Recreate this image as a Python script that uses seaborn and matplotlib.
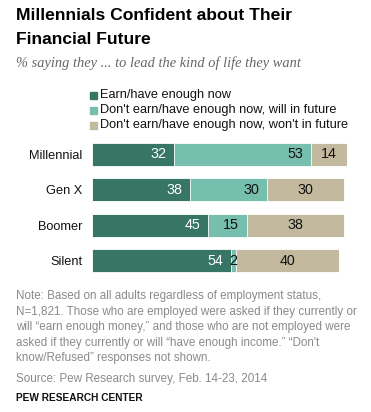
import matplotlib
matplotlib.use("Agg")
import matplotlib.pyplot as plt
import seaborn as sns
import pandas as pd
import numpy as np

generations = ["Millennial", "Gen X", "Boomer", "Silent"]
earn_now = [32, 38, 45, 54]
will_future = [53, 30, 15, 2]
wont_future = [14, 30, 38, 40]
series_names = ["Earn/have enough now",
                "Don't earn/have enough now, will in future",
                "Don't earn/have enough now, won't in future"]
colors = ["#377565", "#76BEAE", "#C2B99E"]

title_lines = ["Millennials Confident about Their", "Financial Future"]
subtitle = "% saying they ... to lead the kind of life they want"
note = ("Note: Based on all adults regardless of employment status,\n"
        "N=1,821. Those who are employed were asked if they currently or\n"
        "will \u201cearn enough money,\u201d and those who are not employed were\n"
        "asked if they currently or will \u201chave enough income.\u201d \u201cDon't\n"
        "know/Refused\u201d responses not shown.")
source = "Source: Pew Research survey, Feb. 14-23, 2014"
brand = "PEW RESEARCH CENTER"

sns.set_style("white")
plt.rcParams['font.family'] = ['Liberation Sans', 'DejaVu Sans']

df = pd.DataFrame({"gen": generations, "a": earn_now, "b": will_future, "c": wont_future})
df["ab"] = df["a"] + df["b"]
df["abc"] = df["ab"] + df["c"]

W, H = 371, 412
fig = plt.figure(figsize=(W / 100, H / 100), dpi=100)
ax = fig.add_axes([92 / W, 1 - 278.2 / H, 257.6 / W, 141.5 / H])

for col, c in zip(["abc", "ab", "a"], colors[::-1]):
    sns.barplot(data=df, x=col, y="gen", orient="h", color=c, ax=ax,
                width=0.65, edgecolor="white", linewidth=0.6, saturation=1)

ax.set_xlim(0, 100)
ax.set_ylim(3.5, -0.5)
ax.set_xlabel("")
ax.set_ylabel("")
ax.set_xticks([])
ax.tick_params(axis="y", length=0, pad=7, labelsize=9.2, labelcolor="#111111")
for s in ax.spines.values():
    s.set_visible(False)

fs = 10.3
for i, row in df.iterrows():
    ax.text(row["a"] - 3.0, i, str(row["a"]), ha="right", va="center",
            color="white", fontsize=fs)
    if row["b"] >= 5:
        ax.text(row["ab"] - 3.0, i, str(row["b"]), ha="right", va="center",
                color="#111111", fontsize=fs)
    else:
        ax.text(row["ab"] + 0.2, i, str(row["b"]), ha="right", va="center",
                color="#111111", fontsize=fs)
    ax.text((row["ab"] + row["abc"]) / 2, i, str(row["c"]), ha="center",
            va="center", color="#111111", fontsize=fs)

# Title and subtitle
for yb, line in zip([20.5, 43.5], title_lines):
    fig.text(16 / W, 1 - yb / H, line, ha="left", va="baseline", fontsize=12.6,
             fontweight="bold", color="#000000")
fig.text(16 / W, 1 - 63 / H, subtitle, ha="left", va="center", fontsize=10.4,
         fontstyle="italic", color="#666666", family=["Liberation Serif", "DejaVu Serif"])

# Legend
leg_y = [95, 110.5, 125]
for y, name, c in zip(leg_y, series_names, colors):
    fig.patches.append(plt.Rectangle((90 / W, 1 - (y + 3.5) / H), 7 / W, 7 / H,
                                     transform=fig.transFigure, color=c, figure=fig))
    fig.text(99.5 / W, 1 - y / H, name, ha="left", va="center", fontsize=9.2,
             color="#111111")

# Note, source, brand
note_y = [296, 311.7, 327.2, 342.8, 358.3]
for y, line in zip(note_y, note.split("\n")):
    fig.text(16 / W, 1 - y / H, line, ha="left", va="center", fontsize=8.35,
             color="#8a8a8a")
fig.text(16 / W, 1 - 379 / H, source, ha="left", va="center", fontsize=8.35,
         color="#8a8a8a")
fig.text(16 / W, 1 - 398 / H, brand, ha="left", va="center", fontsize=7.3,
         fontweight="bold", color="#111111")

fig.savefig("out.png", dpi=100)
